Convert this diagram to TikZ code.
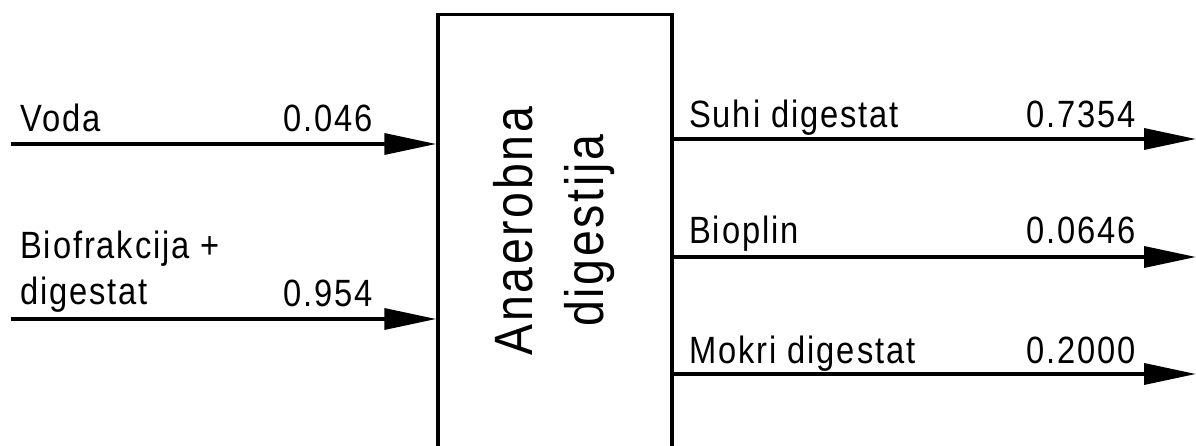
\documentclass[tikz,border=0pt]{standalone}
\usepackage{fontspec}
\setmainfont{Liberation Sans}[FakeStretch=0.86, LetterSpace=5]
\usetikzlibrary{arrows.meta}
\tikzset{flow/.style={line width=3.5pt, -{Triangle[length=52pt,width=21pt]}}}
\def\lbl{\fontsize{38}{47}\selectfont}

\begin{document}
\begin{tikzpicture}[x=1pt, y=-1pt, inner sep=0pt]
				\useasboundingbox (0,0) rectangle (1196,446);
				\node[draw, line width=3.5pt, minimum width=234pt, minimum height=460pt, anchor=north] (ad) at (555,13) {};
				\node[rotate=90, align=center, font=\fontsize{54}{71}\selectfont] (adtext) at (554,231) {Anaerobna\\digestija};
				\coordinate (voda) at (11,144);
				\coordinate (bio) at (11,319);
				\coordinate (suhi) at (1196,139);
				\coordinate (plin) at (1196,257);
				\coordinate (mokri) at (1196,374);
				\node[anchor=base west, font=\lbl] (vodaname) at (20,132) {Voda};
				\node[anchor=base east, font=\lbl] (vodaval) at (373,132) {0.046};
				\node[anchor=base west, font=\lbl, align=left] (bioname) at (20,305) {Biofrakcija +\\digestat};
				\node[anchor=base east, font=\lbl] (bioval) at (373,306) {0.954};
				\node[anchor=base west, font=\lbl] (suhiname) at (689,128) {Suhi digestat};
				\node[anchor=base east, font=\lbl] (suhival) at (1136,128) {0.7354};
				\node[anchor=base west, font=\lbl] (plinname) at (689,244) {Bioplin};
				\node[anchor=base east, font=\lbl] (plinval) at (1136,244) {0.0646};
				\node[anchor=base west, font=\lbl] (mokriname) at (689,363) {Mokri digestat};
				\node[anchor=base east, font=\lbl] (mokrival) at (1136,363) {0.2000};
				\draw[flow] (voda) -- (voda -| ad.west);
				\draw[flow] (bio) -- (bio -| ad.west);
				\draw[flow] (suhi -| ad.east) -- (suhi);
				\draw[flow] (plin -| ad.east) -- (plin);
				\draw[flow] (mokri -| ad.east) -- (mokri);
			\end{tikzpicture}
\end{document}
